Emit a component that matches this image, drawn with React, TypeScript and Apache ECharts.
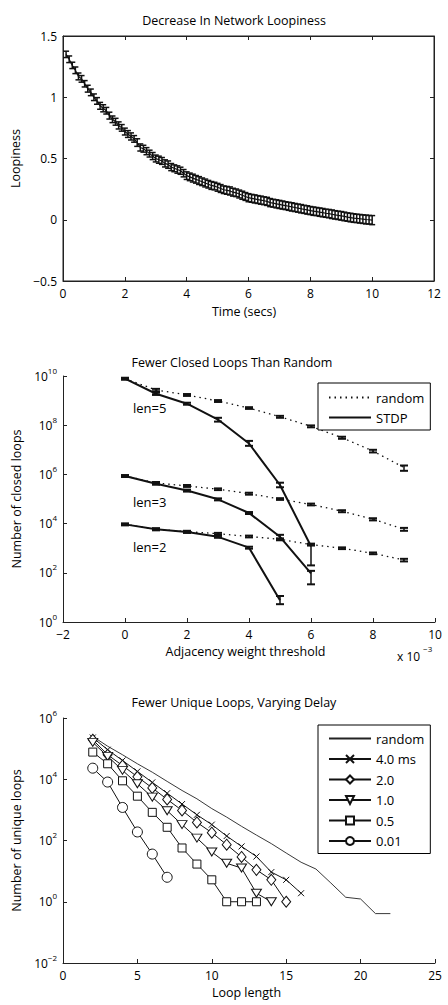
import React, { useEffect, useRef } from "react";
import * as echarts from "echarts";

const FONT = "'Open Sans', 'Noto Sans', sans-serif";

// ---------- Chart 1: Decrease In Network Loopiness ----------
const topTime = [
  0.1, 0.2, 0.3, 0.4, 0.5, 0.6, 0.7, 0.8, 0.9, 1.0,
  1.1, 1.2, 1.3, 1.4, 1.5, 1.6, 1.7, 1.8, 1.9, 2.0,
  2.1, 2.2, 2.3, 2.4, 2.5, 2.6, 2.7, 2.8, 2.9, 3.0,
  3.1, 3.2, 3.3, 3.4, 3.5, 3.6, 3.7, 3.8, 3.9, 4.0,
  4.1, 4.2, 4.3, 4.4, 4.5, 4.6, 4.7, 4.8, 4.9, 5.0,
  5.1, 5.2, 5.3, 5.4, 5.5, 5.6, 5.7, 5.8, 5.9, 6.0,
  6.1, 6.2, 6.3, 6.4, 6.5, 6.6, 6.7, 6.8, 6.9, 7.0,
  7.1, 7.2, 7.3, 7.4, 7.5, 7.6, 7.7, 7.8, 7.9, 8.0,
  8.1, 8.2, 8.3, 8.4, 8.5, 8.6, 8.7, 8.8, 8.9, 9.0,
  9.1, 9.2, 9.3, 9.4, 9.5, 9.6, 9.7, 9.8, 9.9, 10.0,
];
const topLoopiness = [
  1.35, 1.31, 1.26, 1.22, 1.17, 1.15, 1.11, 1.07, 1.04, 1.0,
  0.97, 0.93, 0.91, 0.89, 0.85, 0.82, 0.8, 0.77, 0.75, 0.72,
  0.7, 0.68, 0.66, 0.63, 0.59, 0.58, 0.56, 0.54, 0.52, 0.5,
  0.49, 0.48, 0.46, 0.45, 0.43, 0.42, 0.41, 0.4, 0.38, 0.36,
  0.35, 0.34, 0.33, 0.32, 0.31, 0.3, 0.29, 0.28, 0.275, 0.265,
  0.255, 0.245, 0.24, 0.235, 0.225, 0.22, 0.21, 0.2, 0.19, 0.18,
  0.175, 0.17, 0.165, 0.16, 0.155, 0.15, 0.14, 0.135, 0.13, 0.125,
  0.12, 0.115, 0.11, 0.105, 0.1, 0.095, 0.09, 0.085, 0.08, 0.075,
  0.07, 0.067, 0.062, 0.058, 0.053, 0.05, 0.045, 0.04, 0.036, 0.032,
  0.027, 0.022, 0.018, 0.014, 0.011, 0.008, 0.005, 0.002, 0.0, -0.003,
];
const topErr = [
  0.026, 0.027, 0.026, 0.027, 0.028, 0.027, 0.026, 0.028, 0.027, 0.027,
  0.027, 0.028, 0.029, 0.027, 0.028, 0.027, 0.028, 0.029, 0.027, 0.028,
  0.028, 0.029, 0.027, 0.031, 0.029, 0.028, 0.029, 0.028, 0.029, 0.028,
  0.029, 0.028, 0.029, 0.03, 0.029, 0.028, 0.03, 0.029, 0.03, 0.031,
  0.031, 0.032, 0.031, 0.032, 0.031, 0.032, 0.031, 0.032, 0.031, 0.032,
  0.032, 0.031, 0.032, 0.033, 0.032, 0.031, 0.032, 0.033, 0.032, 0.033,
  0.032, 0.033, 0.032, 0.033, 0.032, 0.033, 0.033, 0.032, 0.033, 0.033,
  0.033, 0.032, 0.033, 0.034, 0.033, 0.033, 0.034, 0.033, 0.034, 0.033,
  0.034, 0.033, 0.034, 0.034, 0.033, 0.034, 0.035, 0.034, 0.034, 0.035,
  0.035, 0.034, 0.035, 0.035, 0.034, 0.035, 0.035, 0.036, 0.035, 0.037,
];

// ---------- Chart 2: Fewer Closed Loops Than Random ----------
const randThreshold = [0, 1, 2, 3, 4, 5, 6, 7, 8, 9];
const rand5 = [7.8e9, 2.7e9, 1.7e9, 9.6e8, 5.0e8, 2.2e8, 9.0e7, 3.1e7, 8.9e6, 1.9e6];
const rand5Lo = [7.2e9, 2.4e9, 1.55e9, 8.8e8, 4.6e8, 2.0e8, 8.2e7, 2.8e7, 7.8e6, 1.4e6];
const rand5Hi = [8.4e9, 3.0e9, 1.85e9, 1.05e9, 5.4e8, 2.4e8, 9.8e7, 3.4e7, 1.0e7, 2.3e6];
const rand3 = [8.6e5, 4.5e5, 3.4e5, 2.5e5, 1.65e5, 1.0e5, 6.0e4, 3.2e4, 1.5e4, 5.9e3];
const rand3Lo = [7.9e5, 4.1e5, 3.1e5, 2.3e5, 1.5e5, 9.2e4, 5.5e4, 2.9e4, 1.35e4, 5.1e3];
const rand3Hi = [9.3e5, 4.9e5, 3.7e5, 2.7e5, 1.8e5, 1.08e5, 6.5e4, 3.5e4, 1.65e4, 6.7e3];
const rand2 = [9.3e3, 5.9e3, 4.7e3, 3.9e3, 3.0e3, 2.3e3, 1.4e3, 1.0e3, 6.2e2, 3.3e2];
const rand2Lo = [8.6e3, 5.4e3, 4.3e3, 3.6e3, 2.75e3, 2.1e3, 1.28e3, 9.2e2, 5.7e2, 2.9e2];
const rand2Hi = [1.0e4, 6.4e3, 5.1e3, 4.2e3, 3.25e3, 2.5e3, 1.52e3, 1.08e3, 6.7e2, 3.7e2];

const stdp5X = [0, 1, 2, 3, 4, 5, 6];
const stdp5 = [7.8e9, 1.9e9, 7.5e8, 1.7e8, 1.8e7, 3.7e5, 1.2e3];
const stdp5Lo = [7.2e9, 1.7e9, 6.8e8, 1.4e8, 1.45e7, 3.0e5, 2.0e2];
const stdp5Hi = [8.4e9, 2.1e9, 8.2e8, 2.0e8, 2.3e7, 4.6e5, 1.5e3];
const stdp3X = [0, 1, 2, 3, 4, 5, 6];
const stdp3 = [8.6e5, 4.2e5, 2.2e5, 9.7e4, 2.7e4, 2.9e3, 95];
const stdp3Lo = [7.9e5, 3.8e5, 2.0e5, 8.8e4, 2.45e4, 2.4e3, 34];
const stdp3Hi = [9.3e5, 4.6e5, 2.4e5, 1.06e5, 2.95e4, 3.5e3, 120];
const stdp2X = [0, 1, 2, 3, 4, 5];
const stdp2 = [9.3e3, 5.9e3, 4.6e3, 2.9e3, 1.05e3, 7.6];
const stdp2Lo = [8.6e3, 5.4e3, 4.2e3, 2.65e3, 9.6e2, 5.3];
const stdp2Hi = [1.0e4, 6.4e3, 5.0e3, 3.15e3, 1.15e3, 11.4];

// ---------- Chart 3: Fewer Unique Loops, Varying Delay ----------
const loopLenRandom = [2, 3, 4, 5, 6, 7, 8, 9, 10, 11, 12, 13, 14, 15, 16, 17, 18, 19, 20, 21, 22];
const loopsRandom = [2.5e5, 1.2e5, 6.3e4, 3.2e4, 1.7e4, 8.5e3, 4.3e3, 2.3e3, 1.1e3, 5.8e2, 2.9e2, 1.5e2, 79, 39, 19.5, 11.7, 4.1, 1.4, 1.23, 0.41, 0.41];
const loopLen40 = [2, 3, 4, 5, 6, 7, 8, 9, 10, 11, 12, 13, 14, 15, 16];
const loops40 = [2.3e5, 9.2e4, 4.1e4, 1.8e4, 7.9e3, 3.5e3, 1.55e3, 6.9e2, 3.3e2, 1.4e2, 64, 30, 9.3, 5.2, 1.9];
const loopLen20 = [2, 3, 4, 5, 6, 7, 8, 9, 10, 11, 12, 13, 14, 15];
const loops20 = [1.95e5, 6.3e4, 2.8e4, 1.2e4, 5.2e3, 2.2e3, 9.6e2, 3.9e2, 1.8e2, 73, 29, 11, 5.2, 1.0];
const loopLen10 = [2, 3, 4, 5, 6, 7, 8, 9, 10, 11, 12, 13, 14];
const loops10 = [1.6e5, 5.6e4, 1.95e4, 7.1e3, 2.6e3, 9.4e2, 3.3e2, 1.2e2, 42, 18, 12.6, 1.9, 1.0];
const loopLen05 = [2, 3, 4, 5, 6, 7, 8, 9, 10, 11, 12, 13];
const loops05 = [7.7e4, 3.2e4, 8.9e3, 2.8e3, 8.3e2, 2.7e2, 57, 17, 5.2, 1.0, 1.0, 1.0];
const loopLen001 = [2, 3, 4, 5, 6, 7];
const loops001 = [2.3e4, 8.1e3, 1.2e3, 1.9e2, 36, 6.3];

const delayNames = ["random", "4.0 ms", "2.0", "1.0", "0.5", "0.01"];

const INK = "#111";
const AXIS = "#222";
const CLEAR = "rgba(0,0,0,0)";

const pair = (xs: number[], ys: number[]) => xs.map((x, i) => [x, ys[i]]);
const triple = (xs: number[], lo: number[], hi: number[]) => xs.map((x, i) => [x, lo[i], hi[i]]);

function errBars(half: number, width: number, capWidth: number) {
  return (params: any, api: any) => {
    const x = api.value(0);
    const p1 = api.coord([x, api.value(1)]);
    const p2 = api.coord([x, api.value(2)]);
    const st = { stroke: INK, lineWidth: width };
    const cs = { stroke: INK, lineWidth: capWidth };
    return {
      type: "group",
      children: [
        { type: "line", shape: { x1: p1[0], y1: p1[1], x2: p2[0], y2: p2[1] }, style: st },
        { type: "line", shape: { x1: p1[0] - half, y1: p1[1], x2: p1[0] + half, y2: p1[1] }, style: cs },
        { type: "line", shape: { x1: p2[0] - half, y1: p2[1], x2: p2[0] + half, y2: p2[1] }, style: cs },
      ],
    };
  };
}

const minus = (s: string) => s.replace("-", "\u2212");
const supLabel = (v: number) => {
  const e = Math.round(Math.log10(v));
  return "{b|10}{s|" + minus(String(e)) + "}";
};

const tickLabel = { fontSize: 12, color: "#000", fontFamily: FONT, margin: 6 };
const supRich = {
  b: { fontSize: 12, fontFamily: FONT, color: "#000", lineHeight: 20, verticalAlign: "middle" },
  s: { fontSize: 8, fontFamily: FONT, color: "#000", lineHeight: 8, verticalAlign: "top" },
};
const axisLine = { show: true, onZero: false, lineStyle: { color: AXIS, width: 1 } };
const axisTick = { show: true, inside: true, length: 4, lineStyle: { color: AXIS, width: 1 } };
const nameStyle = { fontSize: 12.5, color: "#000", fontFamily: FONT };

export default function App() {
  const ref = useRef<HTMLDivElement>(null);

  useEffect(() => {
    const chart = echarts.init(ref.current!, null, { renderer: "svg" });

    const topErrData = topTime.map((t, i) => [t, topLoopiness[i] - topErr[i], topLoopiness[i] + topErr[i]]);

    const randLine = (name: string, xs: number[], ys: number[]) => ({
      type: "line",
      name,
      xAxisIndex: 2,
      yAxisIndex: 2,
      data: pair(xs, ys),
      symbol: "none",
      itemStyle: { color: CLEAR },
      lineStyle: { color: INK, width: 1.3, type: [1.5, 4] },
      z: 2,
    });
    const stdpLine = (name: string, xs: number[], ys: number[]) => ({
      type: "line",
      name,
      xAxisIndex: 2,
      yAxisIndex: 2,
      data: pair(xs, ys),
      symbol: "none",
      itemStyle: { color: CLEAR },
      lineStyle: { color: INK, width: 2 },
      z: 3,
    });
    const errSeries = (xs: number[], lo: number[], hi: number[], xi: number, yi: number, half: number, w: number, cw: number) => ({
      type: "custom",
      name: "err",
      xAxisIndex: xi,
      yAxisIndex: yi,
      data: triple(xs, lo, hi),
      renderItem: errBars(half, w, cw),
      z: 4,
    });

    const markerLine = (name: string, xs: number[], ys: number[], symbol: string, size: any, rotate = 0) => ({
      type: "line",
      name,
      xAxisIndex: 3,
      yAxisIndex: 3,
      data: pair(xs, ys),
      symbol,
      symbolSize: size,
      symbolRotate: rotate,
      itemStyle: { color: "#fff", borderColor: INK, borderWidth: 1 },
      lineStyle: { color: INK, width: 1 },
    });

    const option: any = {
      animation: false,
      backgroundColor: "#fff",
      textStyle: { fontFamily: FONT },
      grid: [
        { left: 63, top: 36, width: 371, height: 245, show: true, borderColor: AXIS, borderWidth: 1, backgroundColor: "transparent" },
        { left: 63, top: 376, width: 372, height: 246 },
        { left: 63, top: 718, width: 372, height: 245 },
      ],
      xAxis: [
        {
          type: "value", gridIndex: 0, min: 0, max: 12, interval: 2,
          axisLine, axisTick, splitLine: { show: false }, axisLabel: tickLabel,
          name: "Time (secs)", nameLocation: "middle", nameGap: 24,
          nameTextStyle: { ...nameStyle, padding: [0, 9, 0, 0] },
        },
        {
          type: "value", gridIndex: 0, position: "top", min: 0, max: 12, interval: 2,
          axisLine, axisTick, splitLine: { show: false }, axisLabel: { show: false },
        },
        {
          type: "value", gridIndex: 1, min: -2, max: 10, interval: 2,
          axisLine, axisTick, splitLine: { show: false },
          axisLabel: { ...tickLabel, formatter: (v: number) => minus(String(v)) },
          name: "Adjacency weight threshold", nameLocation: "middle", nameGap: 23,
          nameTextStyle: { ...nameStyle, padding: [0, 7, 0, 0] },
        },
        {
          type: "value", gridIndex: 2, min: 0, max: 25, interval: 5,
          axisLine, axisTick, splitLine: { show: false }, axisLabel: tickLabel,
          name: "Loop length", nameLocation: "middle", nameGap: 23,
          nameTextStyle: { ...nameStyle, padding: [0, 5, 0, 0] },
        },
      ],
      yAxis: [
        {
          type: "value", gridIndex: 0, min: -0.5, max: 1.5, interval: 0.5,
          axisLine, axisTick, splitLine: { show: false },
          axisLabel: { ...tickLabel, formatter: (v: number) => minus(String(v)) },
          name: "Loopiness", nameLocation: "middle", nameGap: 38, nameTextStyle: nameStyle,
        },
        {
          type: "value", gridIndex: 0, position: "right", min: -0.5, max: 1.5, interval: 0.5,
          axisLine, axisTick, splitLine: { show: false }, axisLabel: { show: false },
        },
        {
          type: "log", logBase: 100, gridIndex: 1, min: 1, max: 1e10,
          axisLine, axisTick, splitLine: { show: false }, minorTick: { show: false },
          axisLabel: { ...tickLabel, formatter: supLabel, rich: supRich },
          name: "Number of closed loops", nameLocation: "middle", nameGap: 38, nameTextStyle: nameStyle,
        },
        {
          type: "log", logBase: 100, gridIndex: 2, min: 0.01, max: 1e6,
          axisLine, axisTick, splitLine: { show: false }, minorTick: { show: false },
          axisLabel: { ...tickLabel, formatter: supLabel, rich: supRich },
          name: "Number of unique loops", nameLocation: "middle", nameGap: 38, nameTextStyle: nameStyle,
        },
      ],
      legend: [
        {
          orient: "vertical", left: 318, top: 383,
          data: ["random", "STDP"],
          itemWidth: 42, itemHeight: 10, itemGap: 7,
          padding: [8, 6, 6, 10],
          borderColor: "#000", borderWidth: 1, backgroundColor: "#fff",
          textStyle: { fontSize: 13, color: "#000", fontFamily: FONT },
          selectedMode: false,
        },
        {
          orient: "vertical", left: 318, top: 725,
          data: ["randomB", delayNames[1], delayNames[2], delayNames[3], delayNames[4], delayNames[5]],
          formatter: (n: string) => (n === "randomB" ? delayNames[0] : n),
          itemWidth: 42, itemHeight: 10, itemGap: 7.5,
          padding: [7, 6, 6, 10],
          borderColor: "#000", borderWidth: 1, backgroundColor: "#fff",
          textStyle: { fontSize: 13, color: "#000", fontFamily: FONT },
          selectedMode: false,
        },
      ],
      graphic: [
        { type: "text", x: 234, y: 20, style: { text: "Decrease In Network Loopiness", font: `12.5px ${FONT}`, fill: "#000", textAlign: "center", textVerticalAlign: "middle" } },
        { type: "text", x: 232, y: 362, style: { text: "Fewer Closed Loops Than Random", font: `12.5px ${FONT}`, fill: "#000", textAlign: "center", textVerticalAlign: "middle" } },
        { type: "text", x: 234, y: 702, style: { text: "Fewer Unique Loops, Varying Delay", font: `12.5px ${FONT}`, fill: "#000", textAlign: "center", textVerticalAlign: "middle" } },
        { type: "text", x: 133, y: 408, style: { text: "len=5", font: `13px ${FONT}`, fill: "#000", textVerticalAlign: "middle" } },
        { type: "text", x: 133, y: 502, style: { text: "len=3", font: `13px ${FONT}`, fill: "#000", textVerticalAlign: "middle" } },
        { type: "text", x: 133, y: 547, style: { text: "len=2", font: `13px ${FONT}`, fill: "#000", textVerticalAlign: "middle" } },
        {
          type: "text", x: 397, y: 656,
          style: {
            text: "{a|x 10}{s|\u22123}",
            textVerticalAlign: "middle",
            rich: {
              a: { fontSize: 12, fontFamily: FONT, fill: "#000", lineHeight: 24, verticalAlign: "middle" },
              s: { fontSize: 8, fontFamily: FONT, fill: "#000", lineHeight: 8, verticalAlign: "top", padding: [0, 0, 0, 3] },
            },
          },
        },
      ],
      series: [
        // chart 1
        {
          type: "line", name: "loopiness", xAxisIndex: 0, yAxisIndex: 0,
          data: pair(topTime, topLoopiness), symbol: "none",
          lineStyle: { color: INK, width: 1.2 },
        },
        { type: "custom", name: "loopErr", xAxisIndex: 0, yAxisIndex: 0, data: topErrData, renderItem: errBars(3, 1.5, 1.5), z: 4 },
        // chart 2
        randLine("random", randThreshold, rand5),
        randLine("random", randThreshold, rand3),
        randLine("random", randThreshold, rand2),
        stdpLine("STDP", stdp5X, stdp5),
        stdpLine("STDP", stdp3X, stdp3),
        stdpLine("STDP", stdp2X, stdp2),
        errSeries(randThreshold, rand5Lo, rand5Hi, 2, 2, 4, 1.5, 2),
        errSeries(randThreshold, rand3Lo, rand3Hi, 2, 2, 4, 1.5, 2),
        errSeries(randThreshold, rand2Lo, rand2Hi, 2, 2, 4, 1.5, 2),
        errSeries(stdp5X, stdp5Lo, stdp5Hi, 2, 2, 4, 1.5, 2),
        errSeries(stdp3X, stdp3Lo, stdp3Hi, 2, 2, 4, 1.5, 2),
        errSeries(stdp2X, stdp2Lo, stdp2Hi, 2, 2, 4, 1.5, 2),
        // chart 3
        {
          type: "line", name: "randomB", xAxisIndex: 3, yAxisIndex: 3,
          data: pair(loopLenRandom, loopsRandom), symbol: "none",
          itemStyle: { color: CLEAR },
          lineStyle: { color: "#222", width: 0.9 },
        },
        markerLine(delayNames[1], loopLen40, loops40, "path://M0,0L10,10M10,0L0,10", 6),
        markerLine(delayNames[2], loopLen20, loops20, "diamond", [9, 11]),
        markerLine(delayNames[3], loopLen10, loops10, "triangle", [10, 8], 180),
        markerLine(delayNames[4], loopLen05, loops05, "rect", 8),
        markerLine(delayNames[5], loopLen001, loops001, "circle", 10),
      ],
    };

    chart.setOption(option);
    return () => chart.dispose();
  }, []);

  return (
    <div
      ref={ref}
      style={{ position: "absolute", left: 0, top: 0, width: 448, height: 1005, background: "#fff" }}
    />
  );
}
